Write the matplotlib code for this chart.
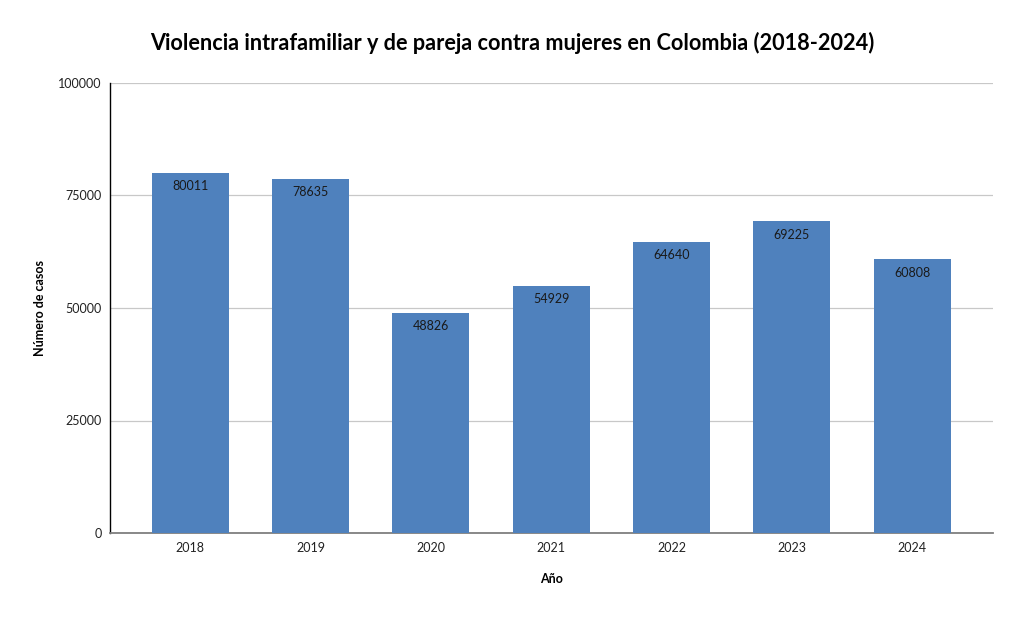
import matplotlib
matplotlib.use("Agg")
import matplotlib.pyplot as plt

years = ["2018", "2019", "2020", "2021", "2022", "2023", "2024"]
cases = [80011, 78635, 48826, 54929, 64640, 69225, 60808]
yticks = [0, 25000, 50000, 75000, 100000]

plt.rcParams["font.family"] = ["Lato", "DejaVu Sans"]

fig = plt.figure(figsize=(10.24, 6.19), dpi=100)
ax = fig.add_axes([110/1024, 1 - 533/619, 883/1024, 450/619])

x = range(len(years))
bars = ax.bar(x, cases, width=0.64, color="#4F81BD", zorder=3)
for b, v in zip(bars, cases):
    ax.text(b.get_x() + b.get_width()/2, v - 1600, str(v), ha="center", va="top",
            fontsize=9, color="#1a1a1a", zorder=4)

ax.set_xlim(-0.665, 6.67)
ax.set_ylim(0, 100000)
ax.set_yticks(yticks)
ax.set_yticklabels([str(t) for t in yticks])
ax.set_xticks(list(x))
ax.set_xticklabels(years)
ax.tick_params(axis="both", length=0, labelsize=9, colors="#222222")
ax.tick_params(axis="x", pad=6.5)
ax.tick_params(axis="y", pad=6)
ax.grid(axis="y", color="#C8C8C8", linewidth=0.9, zorder=0)

for s in ["top", "right"]:
    ax.spines[s].set_visible(False)
ax.spines["left"].set_color("black")
ax.spines["left"].set_linewidth(1.0)
ax.spines["bottom"].set_color("#7F7F7F")
ax.spines["bottom"].set_linewidth(1.3)

ax.set_xlabel("Año", fontsize=9, fontweight="bold", labelpad=14)
ax.set_ylabel("Número de casos", fontsize=9, fontweight="bold", labelpad=9)
fig.text(512/1024, 1 - 43/619, "Violencia intrafamiliar y de pareja contra mujeres en Colombia (2018-2024)",
         ha="center", va="center", fontsize=15.6, fontweight="bold", color="black")

fig.savefig("out.png", dpi=100)
